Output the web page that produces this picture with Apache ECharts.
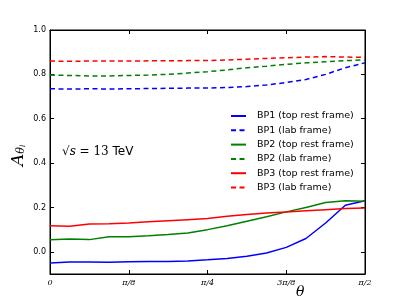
<!DOCTYPE html>
<html>
<head>
<meta charset="utf-8">
<script src="https://cdn.jsdelivr.net/npm/echarts@6/dist/echarts.min.js"></script>
<style>html,body{margin:0;padding:0;background:#fff}#c{width:406px;height:305px}</style>
</head>
<body>
<div id="c"></div>
<script>
// theta in units of pi/32
const theta = [0,1,2,3,4,5,6,7,8,9,10,11,12,13,14,15,16];
const xTickValues = [0,4,8,12,16];
const xTickLabels = ['0','π/8','π/4','3π/8','π/2'];
const yTicks = [0,0.2,0.4,0.6,0.8,1.0];

const bp1Top = [-0.050,-0.046,-0.046,-0.047,-0.045,-0.044,-0.044,-0.041,-0.036,-0.030,-0.020,-0.005,0.020,0.060,0.130,0.210,0.230];
const bp1Lab = [0.735,0.734,0.735,0.734,0.735,0.736,0.737,0.738,0.738,0.741,0.745,0.752,0.763,0.777,0.800,0.830,0.852];
const bp2Top = [0.054,0.058,0.055,0.068,0.068,0.072,0.078,0.085,0.100,0.118,0.138,0.158,0.180,0.200,0.222,0.230,0.228];
const bp2Lab = [0.797,0.795,0.793,0.793,0.795,0.797,0.800,0.806,0.812,0.820,0.830,0.837,0.845,0.852,0.857,0.862,0.865];
const bp3Top = [0.118,0.115,0.125,0.126,0.130,0.135,0.140,0.145,0.150,0.160,0.168,0.175,0.180,0.185,0.190,0.195,0.197];
const bp3Lab = [0.860,0.859,0.860,0.860,0.860,0.861,0.861,0.862,0.862,0.865,0.868,0.872,0.875,0.878,0.880,0.878,0.877];

const names = ['BP1 (top rest frame)','BP1 (lab frame)','BP2 (top rest frame)','BP2 (lab frame)','BP3 (top rest frame)','BP3 (lab frame)'];
const colors = ['#0000ff','#0000ff','#008000','#008000','#ff0000','#ff0000'];
const seriesData = [bp1Top,bp1Lab,bp2Top,bp2Lab,bp3Top,bp3Lab];

const chart = echarts.init(document.getElementById('c'), null, {renderer:'canvas'});
const series = seriesData.map((d,i)=>({
  name: names[i],
  type: 'line',
  data: d.map((v,j)=>[theta[j], v]),
  symbol: 'none',
  showSymbol: false,
  animation: false,
  lineStyle: {color: colors[i], width: 1.5, type: i%2===1 ? [5,3.5] : 'solid'},
  itemStyle: {color: colors[i]},
  z: 2
}));

const tickCommon = {show:true, inside:true, length:4, lineStyle:{color:'#000', width:1}};
chart.setOption({
  animation: false,
  grid: {left:50, right:41, top:30, bottom:31, show:true, borderColor:'#000', borderWidth:1, backgroundColor:'transparent', containLabel:false, outerBoundsMode:'none'},
  legend: {
    orient:'vertical', left:225, top:106,
    itemWidth:15, itemHeight:10, itemGap:4.3,
    data: names,
    itemStyle:{opacity:0, borderWidth:0},
    textStyle:{fontFamily:'DejaVu Sans', fontSize:9.5, color:'#000', padding:[0,0,0,6]}
  },
  xAxis: [{
    type:'value', min:0, max:16, position:'bottom',
    axisLine:{show:true, onZero:false, lineStyle:{color:'#000'}},
    axisTick:Object.assign({customValues:xTickValues}, tickCommon),
    axisLabel:{customValues:xTickValues, formatter:(v)=>xTickLabels[xTickValues.indexOf(v)] || '', fontFamily:'DejaVu Serif', fontStyle:'italic', fontSize:8, color:'#000', margin:5},
    splitLine:{show:false}
  },{
    type:'value', min:0, max:16, position:'top',
    axisLine:{show:true, onZero:false, lineStyle:{color:'#000'}},
    axisTick:Object.assign({customValues:xTickValues}, tickCommon),
    axisLabel:{show:false},
    splitLine:{show:false}
  }],
  yAxis: [{
    type:'value', min:-0.1, max:1.0, position:'left',
    axisLine:{show:true, onZero:false, lineStyle:{color:'#000'}},
    axisTick:Object.assign({customValues:yTicks}, tickCommon),
    axisLabel:{customValues:yTicks, formatter:(v)=>v.toFixed(1), fontFamily:'DejaVu Sans', fontSize:8, color:'#000', margin:4},
    splitLine:{show:false}
  },{
    type:'value', min:-0.1, max:1.0, position:'right',
    axisLine:{show:true, onZero:false, lineStyle:{color:'#000'}},
    axisTick:Object.assign({customValues:yTicks}, tickCommon),
    axisLabel:{show:false},
    splitLine:{show:false}
  }],
  graphic: [
    {type:'text', x:10, y:166, rotation:Math.PI/2, style:{
      text:'{a|A}{s|θ}{l|l}',
      rich:{
        a:{fontFamily:'DejaVu Serif', fontStyle:'italic', fontSize:17, fill:'#000'},
        s:{fontFamily:'DejaVu Serif', fontStyle:'italic', fontSize:11, fill:'#000', padding:[6,0,0,0]},
        l:{fontFamily:'DejaVu Serif', fontStyle:'italic', fontSize:7, fill:'#000', padding:[10,0,0,0]}
      }
    }},
    {type:'text', left:62, top:146, style:{
      text:'{r|√}{i|s}{b| = 13 }{c|TeV}',
      rich:{
        r:{fontFamily:'DejaVu Serif', fontSize:12, fill:'#000'},
        i:{fontFamily:'DejaVu Serif', fontStyle:'italic', fontSize:12, fill:'#000'},
        b:{fontFamily:'DejaVu Serif', fontSize:12, fill:'#000'},
        c:{fontFamily:'DejaVu Sans', fontSize:12, fill:'#000'}
      }
    }},
    {type:'text', left:296, top:285, style:{text:'θ', fontFamily:'DejaVu Serif', fontStyle:'italic', fontSize:14, fill:'#000'}}
  ],
  series: series
});
</script>
</body>
</html>
